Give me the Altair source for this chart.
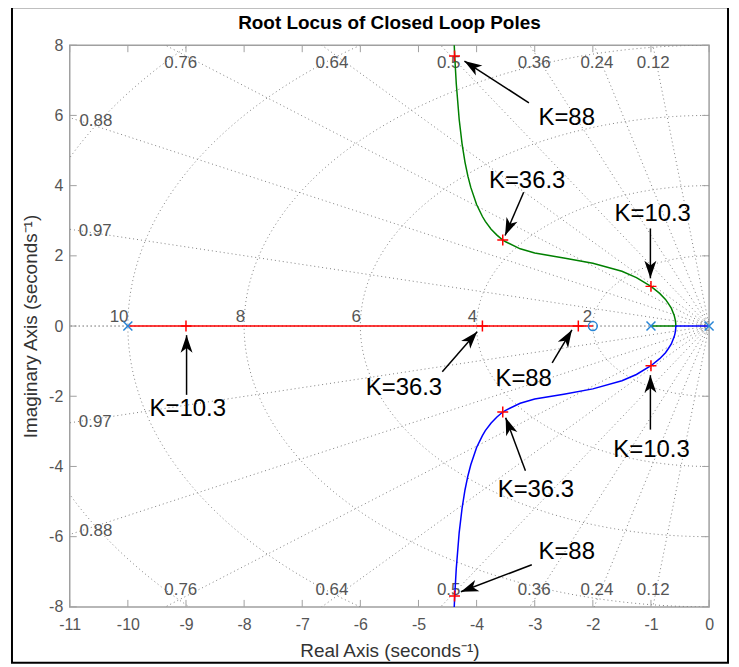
import altair as alt
import numpy as np
import pandas as pd

# ---------------- axes ----------------
x_ticks = [-11, -10, -9, -8, -7, -6, -5, -4, -3, -2, -1, 0]
y_ticks = [-8, -6, -4, -2, 0, 2, 4, 6, 8]
X_DOM = [-11, 0]
Y_DOM = [-8, 8]
TITLE = "Root Locus of Closed Loop Poles"

# ---------------- s-plane grid values ----------------
zeta_vals = [0.12, 0.24, 0.36, 0.5, 0.64, 0.76, 0.88, 0.97, 1.0]
wn_vals = [2, 4, 6, 8, 10, 12]
wn_small = [0.08, 0.13, 0.18]

zeta_lbl = ["0.76", "0.64", "0.5", "0.36", "0.24", "0.12", "0.88", "0.97",
            "0.76", "0.64", "0.5", "0.36", "0.24", "0.12", "0.88", "0.97"]
zeta_lbl_x = [-9.09, -6.49, -4.48, -3.01, -1.93, -0.96, -10.55, -10.56,
              -9.09, -6.49, -4.48, -3.01, -1.93, -0.96, -10.55, -10.56]
zeta_lbl_y = [7.48, 7.48, 7.48, 7.48, 7.48, 7.48, 5.83, 2.72,
              -7.52, -7.52, -7.52, -7.52, -7.52, -7.52, -5.84, -2.72]

wn_lbl = ["10", "8", "6", "4", "2"]
wn_lbl_x = [-9.99, -7.98, -5.99, -3.99, -2.01]
wn_lbl_y = [0.27, 0.27, 0.27, 0.27, 0.27]

# ---------------- root locus branches ----------------
red_x = [-10.0, -2.0]
red_y = [0.0, 0.0]

green_x = [-1.0, -0.572, -0.575, -0.585, -0.60, -0.65, -0.70, -0.75, -0.85, -1.00,
           -1.25, -1.50, -2.00, -2.50, -3.00, -3.25, -3.50, -3.55, -3.65, -3.75,
           -3.85, -3.90, -4.00, -4.10, -4.15, -4.20, -4.25, -4.30, -4.35, -4.375, -4.39]
green_y = [0.0, 0.0, 0.09, 0.20, 0.30, 0.51, 0.64, 0.76, 0.93, 1.13,
           1.38, 1.56, 1.79, 1.94, 2.08, 2.20, 2.40, 2.45, 2.59, 2.76,
           2.98, 3.12, 3.46, 3.95, 4.27, 4.67, 5.19, 5.89, 6.91, 7.64, 8.19]

blue_x = [0.0, -0.572, -0.575, -0.585, -0.60, -0.65, -0.70, -0.75, -0.85, -1.00,
          -1.25, -1.50, -2.00, -2.50, -3.00, -3.25, -3.50, -3.55, -3.65, -3.75,
          -3.85, -3.90, -4.00, -4.10, -4.15, -4.20, -4.25, -4.30, -4.35, -4.375, -4.39]
blue_y = [0.0, 0.0, -0.09, -0.20, -0.30, -0.51, -0.64, -0.76, -0.93, -1.13,
          -1.38, -1.56, -1.79, -1.94, -2.08, -2.20, -2.40, -2.45, -2.59, -2.76,
          -2.98, -3.12, -3.46, -3.95, -4.27, -4.67, -5.19, -5.89, -6.91, -7.64, -8.19]

pole_x = [0.0, -1.0, -10.0]
pole_y = [0.0, 0.0, 0.0]
zero_x = [-2.0]
zero_y = [0.0]

kmark_x = [-9.0, -3.9, -2.25, -1.0, -1.0, -3.55, -3.55, -4.38, -4.38]
kmark_y = [0.0, 0.0, 0.0, 1.13, -1.13, 2.45, -2.45, 7.69, -7.69]

# ---------------- annotations ----------------
ann_text = ["K=88", "K=36.3", "K=10.3", "K=10.3", "K=36.3", "K=88", "K=10.3", "K=36.3", "K=88"]
ann_x = [-2.45, -3.13, -0.97, -0.99, -2.98, -2.45, -8.97, -5.25, -3.19]
ann_y = [5.92, 4.14, 3.20, -3.52, -4.68, -6.44, -2.35, -1.76, -1.51]
arr_tail_x = [-3.10, -3.19, -1.01, -1.01, -3.16, -3.05, -8.99, -4.59, -2.70]
arr_tail_y = [6.36, 3.81, 2.78, -2.95, -4.12, -6.80, -1.96, -1.30, -1.05]
arr_head_x = [-4.21, -3.51, -1.01, -1.01, -3.50, -4.27, -8.99, -3.99, -2.36]
arr_head_y = [7.55, 2.58, 1.36, -1.40, -2.61, -7.57, -0.26, -0.16, -0.11]

# ---------------- layout ----------------
W, H = 642, 564
FONT = "Liberation Sans"
kx = W / (X_DOM[1] - X_DOM[0])
ky = H / (Y_DOM[1] - Y_DOM[0])

xs = alt.Scale(domain=X_DOM, nice=False, zero=False)
ys = alt.Scale(domain=Y_DOM, nice=False, zero=False)
xaxis = alt.Axis(values=x_ticks, title="Real Axis (seconds\u207b\u00b9)", labelExpr="'' + datum.value",
                 ticks=False, domain=False, grid=False, labelFlush=False, labelOverlap=False,
                 labelPadding=10, titlePadding=9)
yaxis = alt.Axis(values=y_ticks, title="Imaginary Axis (seconds\u207b\u00b9)", labelExpr="'' + datum.value",
                 ticks=False, domain=False, grid=False, labelFlush=False, labelOverlap=False,
                 labelPadding=7, titlePadding=8)
X = alt.X("x:Q", scale=xs, axis=xaxis)
Y = alt.Y("y:Q", scale=ys, axis=yaxis)

# grid construction from zeta / wn values
rows = []
R = 20.0
for i, z in enumerate(zeta_vals):
    for sgn in (1, -1):
        g = f"z{i}_{sgn}"
        rows.append(dict(x=0.0, y=0.0, g=g, o=0))
        rows.append(dict(x=-z * R, y=sgn * float(np.sqrt(1 - z * z)) * R, g=g, o=1))
theta = np.linspace(np.pi / 2, 3 * np.pi / 2, 241)
for w in wn_vals + wn_small:
    for k, t in enumerate(theta):
        rows.append(dict(x=float(w * np.cos(t)), y=float(w * np.sin(t)), g=f"w{w}", o=k))
grid_df = pd.DataFrame(rows)

grid = alt.Chart(grid_df).mark_line(clip=True, strokeDash=[1, 3], strokeWidth=1, color="#808080").encode(
    x=X, y=Y, detail="g:N", order="o:Q")

zl_df = pd.DataFrame(dict(x=zeta_lbl_x, y=zeta_lbl_y, t=zeta_lbl))
zlab = alt.Chart(zl_df).mark_text(font=FONT, fontSize=17, color="#555555", baseline="middle").encode(
    x=X, y=Y, text="t:N")
wl_df = pd.DataFrame(dict(x=wn_lbl_x, y=wn_lbl_y, t=wn_lbl))
wlab = alt.Chart(wl_df).mark_text(font=FONT, fontSize=17, color="#555555", baseline="middle", align="right").encode(
    x=X, y=Y, text="t:N")

def branch(xv, yv, col):
    df = pd.DataFrame(dict(x=xv, y=yv, o=list(range(len(xv)))))
    return alt.Chart(df).mark_line(clip=True, strokeWidth=1.5, color=col).encode(x=X, y=Y, order="o:Q")

red = branch(red_x, red_y, "#ff0000")
green = branch(green_x, green_y, "#008000")
blue = branch(blue_x, blue_y, "#0000ff")

PLUS = "M-1,0L1,0M0,-1L0,1"
CROSS = "M-1,-1L1,1M-1,1L1,-1"
ARROW = "M0,0L0.75,2.2L0,1.6L-0.75,2.2Z"
MBLUE = "#2a86d6"

poles = alt.Chart(pd.DataFrame(dict(x=pole_x, y=pole_y))).mark_point(
    shape=CROSS, filled=False, size=81, strokeWidth=1.5, color=MBLUE, opacity=1).encode(x=X, y=Y)
zeros = alt.Chart(pd.DataFrame(dict(x=zero_x, y=zero_y))).mark_point(
    shape="circle", filled=False, size=79, strokeWidth=1.5, color=MBLUE, opacity=1).encode(x=X, y=Y)
kmarks = alt.Chart(pd.DataFrame(dict(x=kmark_x, y=kmark_y))).mark_point(
    shape=PLUS, filled=False, size=121, strokeWidth=1.5, color="#ff0000", opacity=1).encode(x=X, y=Y)

ang = []
for tx, ty, hx, hy in zip(arr_tail_x, arr_tail_y, arr_head_x, arr_head_y):
    a = float(np.degrees(np.arctan2((hx - tx) * kx, (hy - ty) * ky))) % 360
    ang.append(a)
arr_df = pd.DataFrame(dict(x=arr_tail_x, y=arr_tail_y, x2=arr_head_x, y2=arr_head_y))
head_df = pd.DataFrame(dict(x=arr_head_x, y=arr_head_y, ang=ang))

arrows = alt.Chart(arr_df).mark_rule(strokeWidth=1.5, color="black").encode(x=X, y=Y, x2="x2:Q", y2="y2:Q")
heads = alt.Chart(head_df).mark_point(shape=ARROW, filled=True, size=256, color="black", opacity=1,
                                      strokeWidth=0).encode(x=X, y=Y, angle=alt.Angle("ang:Q", scale=None))
ann = alt.Chart(pd.DataFrame(dict(x=ann_x, y=ann_y, t=ann_text))).mark_text(
    font=FONT, fontSize=24, color="black", baseline="middle").encode(x=X, y=Y, text="t:N")

# inner tick marks on all four sides
TL = 7
xt_df = pd.DataFrame(dict(x=x_ticks))
yt_df = pd.DataFrame(dict(y=y_ticks))
tick_col = "#a0a0a0"
t_bot = alt.Chart(xt_df).mark_rule(color=tick_col, strokeWidth=1).encode(x=X, y=alt.value(H), y2=alt.value(H - TL))
t_top = alt.Chart(xt_df).mark_rule(color=tick_col, strokeWidth=1).encode(x=X, y=alt.value(0), y2=alt.value(TL))
t_left = alt.Chart(yt_df).mark_rule(color=tick_col, strokeWidth=1).encode(y=Y, x=alt.value(0), x2=alt.value(TL))
t_right = alt.Chart(yt_df).mark_rule(color=tick_col, strokeWidth=1).encode(y=Y, x=alt.value(W), x2=alt.value(W - TL))

# outer figure frame and title
PL, PT = 62, 36
frame = alt.Chart(alt.Data(values=[{"a": 1}])).mark_rect(
    fill=None, stroke="black", strokeWidth=2).encode(
    x=alt.value(12 - 8 - PL), x2=alt.value(731 - 8 - PL),
    y=alt.value(6 - 8 - PT), y2=alt.value(664 - 8 - PT))
title = alt.Chart(alt.Data(values=[{"t": TITLE}])).mark_text(
    font=FONT, fontSize=19, fontWeight="bold", color="black", baseline="middle", align="center").encode(
    x=alt.value(W / 2), y=alt.value(-22), text="t:N")

chart = alt.layer(
    grid, zlab, wlab, t_bot, t_top, t_left, t_right,
    red, green, blue, poles, zeros, kmarks, arrows, heads, ann, frame, title
).properties(
    width=W, height=H,
    padding={"left": PL, "top": PT, "right": 22, "bottom": 58},
    autosize=alt.AutoSizeParams(type="none"),
).configure_view(
    stroke="#a0a0a0", strokeWidth=1.5
).configure_axis(
    labelFont=FONT, labelFontSize=16, labelColor="#555555",
    titleFont=FONT, titleFontSize=19, titleColor="#333333", titleFontWeight="normal"
)

chart.save("out.html", embed_options={"renderer": "svg", "actions": False})
